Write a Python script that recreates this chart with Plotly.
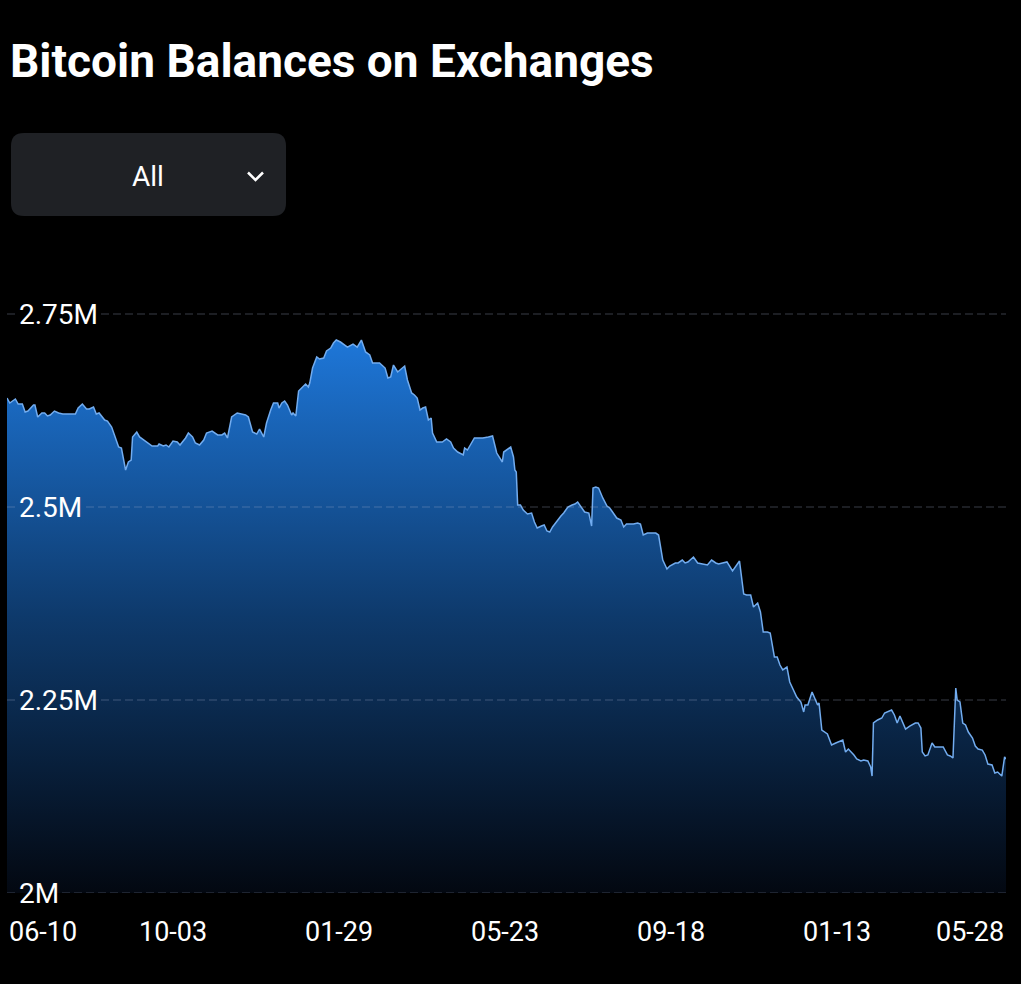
import plotly.graph_objects as go

# ---------------- data ----------------
# x: day offset from the first sample; y: exchange balance in thousands of BTC
days = [
    0, 2, 6, 8, 11, 13, 15, 19, 20, 22,
    25, 27, 29, 31, 34, 37, 40, 45, 49, 51,
    54, 57, 59, 62, 64, 66, 68, 70, 72, 75,
    77, 80, 82, 85, 87, 89, 90, 93, 95, 97,
    100, 104, 108, 109, 112, 114, 116, 119, 122, 124,
    128, 130, 133, 135, 138, 141, 143, 147, 151, 154,
    156, 158, 161, 165, 168, 171, 173, 176, 179, 181,
    184, 186, 189, 191, 194, 195, 197, 199, 201, 204,
    205, 207, 209, 211, 214, 216, 217, 219, 222, 224,
    227, 229, 232, 234, 236, 239, 241, 244, 248, 251,
    254, 257, 260, 262, 265, 267, 271, 273, 275, 277,
    280, 282, 285, 287, 288, 290, 292, 294, 296, 298,
    300, 302, 304, 305, 308, 312, 315, 318, 320, 323,
    327, 328, 330, 333, 335, 338, 341, 345, 348, 351,
    353, 355, 356, 358, 361, 363, 364, 365, 366, 368,
    370, 373, 376, 378, 380, 383, 385, 387, 389, 391,
    394, 397, 399, 402, 405, 407, 409, 412, 414, 417,
    419, 420, 422, 424, 427, 430, 432, 434, 437, 440,
    442, 444, 447, 449, 452, 454, 456, 459, 462, 465,
    467, 470, 473, 475, 479, 481, 484,
    486, 488, 492, 495, 499, 502, 505, 508, 510, 513,
    516, 520, 522, 525, 528, 530, 533, 535, 538, 540,
    542, 545, 547, 550, 552, 554, 556, 559, 561, 564,
    566, 569, 571, 572, 574, 577, 579, 581, 582, 584,
    588, 591, 594, 599, 601, 603, 607, 609, 612,
    614, 617, 619, 620, 621, 624, 627, 629, 634, 636,
    638, 640, 642, 644, 647, 651, 653, 655, 656, 658,
    660, 663, 665, 669, 671, 674, 676, 678, 680, 681,
    683, 685, 687, 689, 692, 694, 696, 699, 701, 703,
    706, 708, 710, 713, 715, 716,
]

balance_k = [
    2641.2, 2634.7, 2639.9, 2633.4, 2633.4, 2623.0, 2624.3, 2632.1, 2632.1, 2616.6,
    2621.8, 2621.8, 2617.9, 2619.2, 2624.3, 2621.8, 2620.5, 2620.5, 2620.5, 2628.2,
    2633.4, 2626.9, 2626.9, 2629.5, 2620.5, 2621.8, 2616.6, 2612.7, 2611.4, 2603.6,
    2593.3, 2577.7, 2576.4, 2547.9, 2558.3, 2560.9, 2590.7, 2597.1, 2590.7, 2588.1,
    2584.2, 2579.0, 2579.0, 2581.6, 2579.0, 2580.3, 2577.7, 2585.5, 2584.2, 2580.3,
    2589.4, 2595.8, 2590.7, 2582.9, 2580.3, 2586.8, 2595.8, 2598.4, 2593.3, 2593.3,
    2595.8, 2589.4, 2616.6, 2621.8, 2620.5, 2619.2, 2616.6, 2597.1, 2594.5, 2601.0,
    2590.7, 2608.8, 2625.6, 2634.7, 2634.7, 2628.2, 2634.7, 2637.3, 2632.1, 2619.2,
    2621.8, 2617.9, 2650.2, 2654.1, 2659.3, 2655.4, 2660.6, 2680.0, 2694.3, 2691.7,
    2693.0, 2702.1, 2705.9, 2712.4, 2716.3, 2713.7, 2711.1, 2707.2, 2711.1, 2707.2,
    2716.3, 2700.8, 2696.9, 2686.5, 2686.5, 2686.5, 2680.0, 2667.1, 2668.4, 2683.9,
    2674.9, 2677.5, 2682.6, 2664.5, 2658.0, 2647.7, 2645.1, 2641.2, 2625.6, 2628.2,
    2629.5, 2612.7, 2615.3, 2595.8, 2584.2, 2584.2, 2588.1, 2584.2, 2576.4, 2571.2,
    2567.4, 2576.4, 2573.8, 2584.2, 2589.4, 2589.4, 2589.4, 2590.7, 2592.0, 2569.9,
    2563.5, 2558.3, 2571.2, 2573.8, 2577.7, 2564.8, 2547.9, 2545.3, 2502.6, 2502.6,
    2496.1, 2490.9, 2492.2, 2480.6, 2472.8, 2475.4, 2476.7, 2468.9, 2467.6, 2474.1,
    2481.9, 2488.3, 2492.2, 2500.0, 2502.6, 2503.9, 2506.5, 2498.7, 2493.5, 2492.2,
    2475.4, 2524.6, 2525.9, 2524.6, 2511.7, 2501.3, 2498.7, 2493.5, 2485.7, 2483.2,
    2474.1, 2478.0, 2478.0, 2478.0, 2479.3, 2478.0, 2463.7, 2466.3, 2466.3, 2466.3,
    2463.7, 2431.3, 2419.7, 2423.6, 2427.5, 2427.5, 2431.3,
    2427.5, 2428.8, 2435.2, 2427.5, 2426.2, 2424.9, 2431.3, 2427.5, 2426.2, 2427.5,
    2428.8, 2417.1, 2422.3, 2430.0, 2387.3, 2386.0, 2386.0, 2370.5, 2375.6, 2364.0,
    2338.1, 2338.1, 2336.8, 2305.7, 2305.7, 2295.3, 2288.9, 2292.7, 2273.3, 2262.9,
    2253.9, 2247.4, 2234.5, 2243.5, 2243.5, 2260.4, 2252.6, 2243.5, 2246.1, 2211.1,
    2206.0, 2191.7, 2194.3, 2198.2, 2182.6, 2186.5, 2178.8, 2173.6, 2171.0,
    2172.3, 2171.0, 2163.2, 2151.5, 2220.2, 2224.1, 2226.7, 2233.2, 2237.0, 2230.6,
    2220.2, 2229.3, 2220.2, 2212.4, 2216.3, 2220.2, 2220.2, 2213.7, 2182.6, 2177.5,
    2178.8, 2194.3, 2189.1, 2189.1, 2189.1, 2178.8, 2177.5, 2174.9, 2265.5, 2250.0,
    2247.4, 2220.2, 2217.6, 2208.5, 2200.8, 2190.4, 2186.5, 2185.2, 2178.8, 2167.1,
    2165.8, 2155.4, 2156.7, 2151.5, 2176.2, 2173.6,
]
assert len(days) == len(balance_k)

tick_days = [0, 119, 238, 357, 476, 595, 714]
tick_labels = ["06-10", "10-03", "01-29", "05-23", "09-18", "01-13", "05-28"]

y_ticks = [2000, 2250, 2500, 2750]
y_tick_labels = ["2M", "2.25M", "2.5M", "2.75M"]

title_text = "Bitcoin Balances on Exchanges"
range_label = "All"

# ---------------- layout geometry (pixels) ----------------
W, H = 1021, 984
PL, PR, PT, PB = 7, 1006, 270, 893
PX_PER_250K = 193.0
Y_MIN = 2000
Y_MAX = Y_MIN + (PB - PT) * 250 / PX_PER_250K
X_MAX = 716


def px(x):
    return (x - PL) / (PR - PL)


def py(y):
    return (PB - y) / (PB - PT)


FONT = "Roboto"
WHITE = "#ffffff"
GRID = "rgba(160,175,200,0.35)"

fig = go.Figure()
fig.add_trace(go.Scatter(
    x=days, y=balance_k, mode="lines",
    line=dict(color="#72acef", width=1.5),
    fill="tozeroy",
    fillgradient=dict(type="vertical",
                      colorscale=[[0, "#030811"], [0.5, "#0e3a6c"], [1, "#1e77d9"]],
                      start=Y_MIN, stop=2720),
    hoverinfo="skip", showlegend=False,
))

# dashed grid lines drawn above the area, with a gap behind each label
label_w = {"2M": 39, "2.25M": 78, "2.5M": 63, "2.75M": 78}
for yv, lab in zip(y_ticks, y_tick_labels):
    for a, b in [(PL, 17), (20 + label_w[lab] + 3, PR)]:
        fig.add_shape(type="line", xref="paper", yref="y",
                      x0=px(a), x1=px(b), y0=yv, y1=yv,
                      line=dict(color=GRID, width=1, dash="8px,4px"),
                      layer="above")

# x tick labels (first/last clamped inside the plot like the original)
for i, (d, lab) in enumerate(zip(tick_days, tick_labels)):
    anchor = "left" if i == 0 else ("right" if i == len(tick_days) - 1 else "center")
    xv = 0 if i == 0 else (X_MAX if i == len(tick_days) - 1 else d)
    fig.add_annotation(x=xv, xref="x", y=py(932), yref="paper",
                       text=lab, showarrow=False, xanchor=anchor, yanchor="middle",
                       font=dict(family=FONT, size=27, color=WHITE))

# dropdown-like box
x0, x1 = px(11), px(286)
yb, yt = py(216), py(133)
rx, ry = 13 / (PR - PL), 13 / (PB - PT)
path = (f"M {x0+rx},{yt} L {x1-rx},{yt} Q {x1},{yt} {x1},{yt-ry} "
        f"L {x1},{yb+ry} Q {x1},{yb} {x1-rx},{yb} L {x0+rx},{yb} "
        f"Q {x0},{yb} {x0},{yb+ry} L {x0},{yt-ry} Q {x0},{yt} {x0+rx},{yt} Z")
fig.add_shape(type="path", xref="paper", yref="paper", path=path,
              fillcolor="#1f2125", line=dict(width=0), layer="above")
chev = f"M {px(248)},{py(172.5)} L {px(255.5)},{py(180)} L {px(263)},{py(172.5)}"
fig.add_shape(type="path", xref="paper", yref="paper", path=chev,
              fillcolor="rgba(0,0,0,0)", line=dict(color=WHITE, width=2.5), layer="above")
fig.add_annotation(x=px(148), y=py(177), xref="paper", yref="paper",
                   text=range_label, showarrow=False, xanchor="center", yanchor="middle",
                   font=dict(family=FONT, size=28, color=WHITE))

fig.update_layout(
    width=W, height=H, autosize=False,
    margin=dict(l=PL, r=W - PR, t=PT, b=H - PB, pad=0),
    paper_bgcolor="#000000", plot_bgcolor="#000000",
    hovermode=False,
    title=dict(text=title_text, xref="container", yref="container",
               x=10 / W, y=1 - 61 / H, xanchor="left", yanchor="middle",
               font=dict(family=FONT, size=46, color=WHITE, weight=700)),
    xaxis=dict(range=[0, X_MAX], showgrid=False, zeroline=False, showline=False,
               showticklabels=False, ticks="", fixedrange=True),
    yaxis=dict(range=[Y_MIN, Y_MAX], tickvals=y_ticks, ticktext=y_tick_labels,
               showgrid=False, zeroline=False, showline=False, ticks="",
               ticklabelposition="inside", ticklabelstandoff=9,
               ticklabeloverflow="allow",
               tickfont=dict(family=FONT, size=28, color=WHITE), fixedrange=True),
)

fig.write_html("out.html", config={"displayModeBar": False},
               post_script="document.body.style.margin='0';"
                           "document.body.style.background='#000';")
